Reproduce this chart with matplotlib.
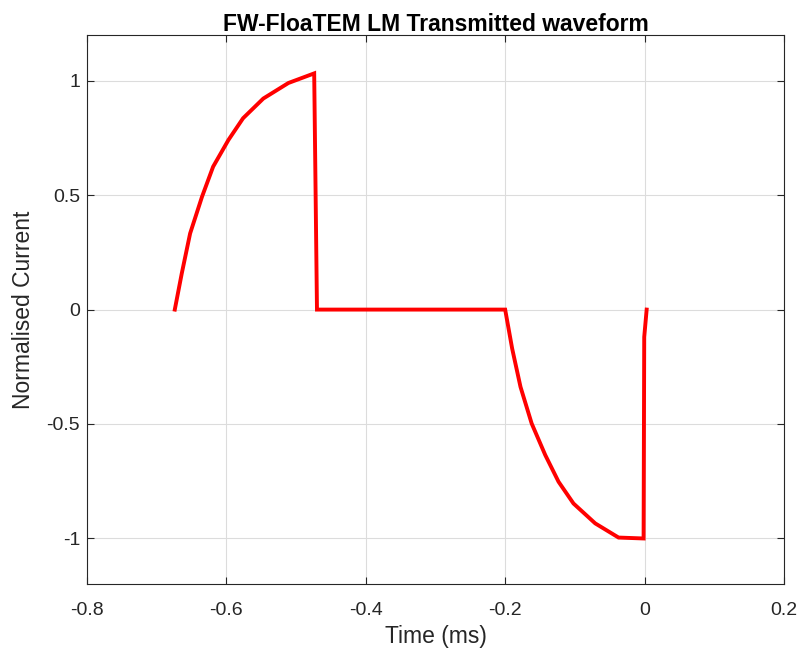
import matplotlib
matplotlib.use('Agg')
import matplotlib.pyplot as plt
import matplotlib.ticker as mticker

plt.rcParams['font.family'] = ['Liberation Sans', 'DejaVu Sans']
plt.rcParams['axes.unicode_minus'] = False

# waveform vertices (time in ms, normalised current)
time_ms = [-0.674, -0.664, -0.652, -0.635, -0.619, -0.597, -0.576, -0.547, -0.511, -0.474,
           -0.470, -0.200,
           -0.190, -0.178, -0.162, -0.1425, -0.1234, -0.102, -0.0708, -0.0373, -0.0014,
           -0.0005, 0.003]
current = [0.0, 0.158, 0.333, 0.493, 0.625, 0.742, 0.837, 0.923, 0.991, 1.033,
           0.0, 0.0,
           -0.170, -0.338, -0.498, -0.636, -0.753, -0.848, -0.935, -0.997, -1.001,
           -0.12, 0.0]

x_ticks = [-0.8, -0.6, -0.4, -0.2, 0, 0.2]
y_ticks = [-1, -0.5, 0, 0.5, 1]

fig = plt.figure(figsize=(8.03, 6.58), dpi=100)
ax = fig.add_axes([0.1083, 0.1125, 0.868, 0.834])

ax.plot(time_ms, current, color='red', linewidth=2.8, solid_joinstyle='miter')

ax.set_xlim(-0.8, 0.2)
ax.set_ylim(-1.2, 1.2)
ax.set_xticks(x_ticks)
ax.set_yticks(y_ticks)
fmt = mticker.FuncFormatter(lambda v, p: f'{v:g}')
ax.xaxis.set_major_formatter(fmt)
ax.yaxis.set_major_formatter(fmt)

ax.grid(True, color='#dcdcdc', linewidth=0.8)
ax.set_axisbelow(True)
for s in ax.spines.values():
    s.set_color('#262626')
    s.set_linewidth(0.8)
ax.tick_params(direction='in', top=True, right=True, length=5, width=0.8,
               colors='#262626', labelsize=14)
ax.tick_params(axis='x', pad=13)
ax.tick_params(axis='y', pad=5)

ax.set_xlabel('Time (ms)', fontsize=16.5, color='#262626', labelpad=4)
ax.set_ylabel('Normalised Current', fontsize=16.5, color='#262626', labelpad=8)
ax.set_title('FW-FloaTEM LM Transmitted waveform', fontsize=16.5, fontweight='bold', pad=3)

fig.savefig('out.png', dpi=100)
